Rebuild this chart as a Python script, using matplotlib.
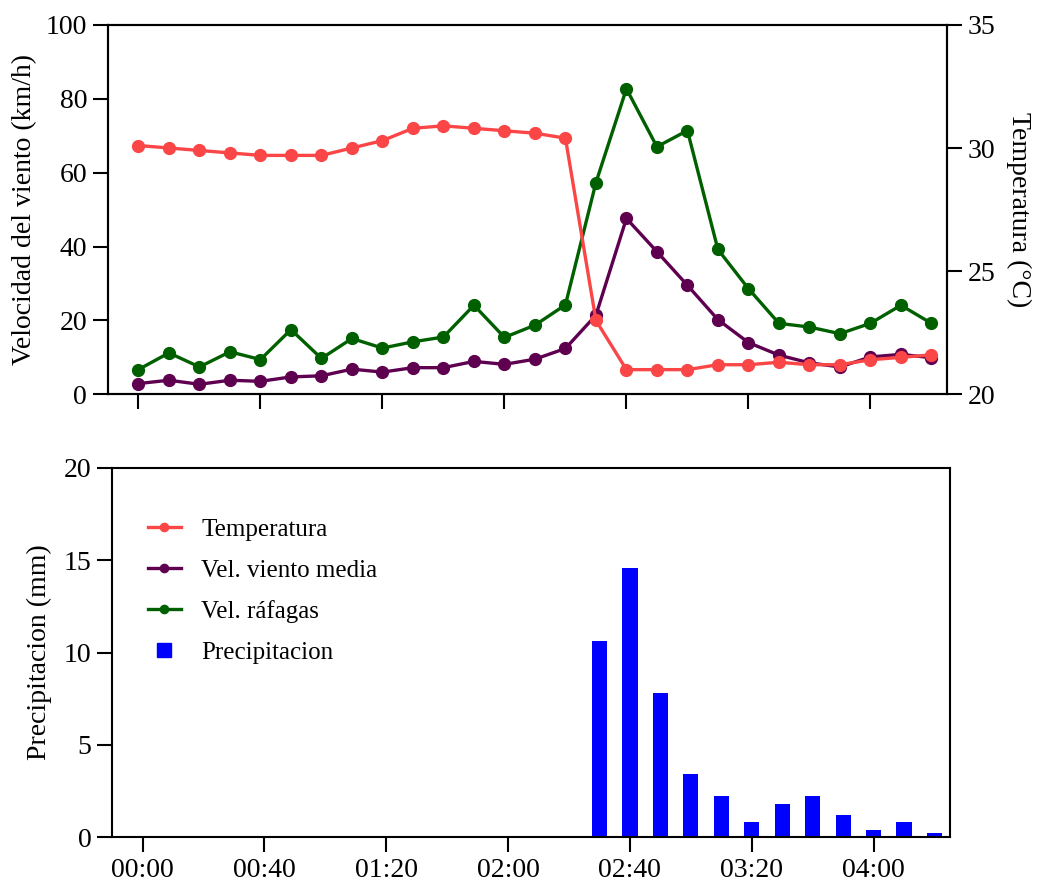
import numpy as np
import matplotlib
matplotlib.use('Agg')
import matplotlib.pyplot as plt
from matplotlib.lines import Line2D

plt.rcParams['font.family'] = ['Liberation Serif', 'DejaVu Serif']

# minutes since 00:00, every 10 min
minutes = list(range(0, 261, 10))

temperatura = [30.1, 30.0, 29.9, 29.8, 29.7, 29.7, 29.7, 30.0, 30.3, 30.8,
               30.9, 30.8, 30.7, 30.6, 30.4, 23.0, 21.0, 21.0, 21.0, 21.2,
               21.2, 21.3, 21.2, 21.2, 21.4, 21.5, 21.6]
viento_media = [2.9, 3.8, 2.7, 3.8, 3.5, 4.7, 5.0, 6.8, 6.0, 7.2,
                7.2, 8.9, 8.1, 9.5, 12.4, 21.4, 47.6, 38.6, 29.5, 20.2,
                14.0, 10.6, 8.5, 7.4, 10.1, 10.8, 9.9]
rafagas = [6.7, 11.2, 7.4, 11.5, 9.4, 17.5, 9.7, 15.1, 12.5, 14.2,
           15.5, 24.1, 15.4, 18.7, 24.2, 57.3, 82.7, 67.0, 71.4, 39.2,
           28.6, 19.2, 18.2, 16.4, 19.2, 24.1, 19.2]
precipitacion = [0, 0, 0, 0, 0, 0, 0, 0, 0, 0,
                 0, 0, 0, 0, 0, 10.6, 14.6, 7.8, 3.4, 2.2,
                 0.8, 1.8, 2.2, 1.2, 0.4, 0.8, 0.2]

tick_min = [0, 40, 80, 120, 160, 200, 240]
tick_labels = ['00:00', '00:40', '01:20', '02:00', '02:40', '03:20', '04:00']

c_temp = '#fa4646'
c_media = '#5e004f'
c_raf = '#006000'
c_prec = '#0000ff'

fig = plt.figure(figsize=(10.38, 8.88), dpi=100)
ax1 = fig.add_axes([0.104, 0.556, 0.808, 0.416])
ax2 = fig.add_axes([0.108, 0.0574, 0.807, 0.4156])

lw = 2.4
ms = 8.5

# --- panel superior: viento + temperatura ---
l_media, = ax1.plot(minutes, viento_media, color=c_media, lw=lw, marker='o', ms=ms)
l_raf, = ax1.plot(minutes, rafagas, color=c_raf, lw=lw, marker='o', ms=ms)
ax1.set_ylim(0, 100)
ax1.set_xlim(-10, 265)
ax1.set_yticks([0, 20, 40, 60, 80, 100])
ax1.set_xticks(tick_min)
ax1.set_xticklabels([])
ax1.set_ylabel('Velocidad del viento (km/h)', fontsize=20, labelpad=6)

ax1t = ax1.twinx()
l_temp, = ax1t.plot(minutes, temperatura, color=c_temp, lw=lw, marker='o', ms=ms)
ax1t.set_ylim(20, 35)
ax1t.set_yticks([20, 25, 30, 35])
ax1t.set_ylabel('Temperatura (°C)', fontsize=20, rotation=-90, labelpad=26)

# --- panel inferior: precipitacion ---
ax2.bar(minutes, precipitacion, width=5, color=c_prec)
ax2.set_xlim(-10, 265)
ax2.set_ylim(0, 20)
ax2.set_yticks([0, 5, 10, 15, 20])
ax2.set_xticks(tick_min)
ax2.set_xticklabels(tick_labels)
ax2.set_ylabel('Precipitacion (mm)', fontsize=20, labelpad=8)

for a in (ax1, ax1t, ax2):
    a.tick_params(direction='out', length=11, width=1.5, labelsize=20, pad=4)
    for s in a.spines.values():
        s.set_linewidth(1.5)

handles = [l_temp, l_media, l_raf,
           Line2D([], [], ls='none', marker='s', ms=15, color=c_prec)]
labels = ['Temperatura', 'Vel. viento media', 'Vel. ráfagas', 'Precipitacion']
leg = ax2.legend(handles, labels, loc='upper left', bbox_to_anchor=(0.0155, 0.925),
                 frameon=False, fontsize=18, handlelength=1.35, labelspacing=0.74,
                 handletextpad=0.8, markerscale=0.7)

fig.savefig('out.png', dpi=100)
